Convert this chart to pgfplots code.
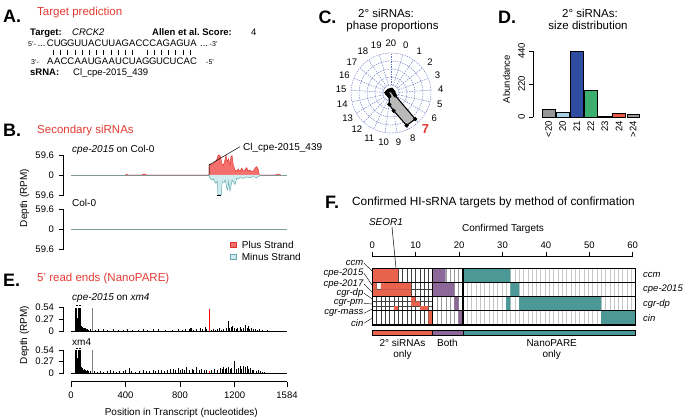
\documentclass[border=0pt]{standalone}
\usepackage{fontspec}
\setmainfont{Liberation Sans}
\usepackage{pgfplots}
\pgfplotsset{compat=1.18}
\newcommand\fs[1]{\fontsize{#1bp}{#1bp}\selectfont}
\definecolor{ttl}{RGB}{226,58,50}
\definecolor{hred}{RGB}{232,98,76}
\definecolor{hpur}{RGB}{140,104,152}
\definecolor{htea}{RGB}{76,152,150}
\definecolor{plusf}{RGB}{244,112,108}
\definecolor{pluse}{RGB}{226,50,44}
\definecolor{minf}{RGB}{208,236,238}
\definecolor{mine}{RGB}{100,170,176}
\definecolor{zline}{RGB}{125,155,155}
\definecolor{pgrid}{RGB}{100,115,190}
\definecolor{dgrey}{RGB}{150,150,150}
\definecolor{dlblue}{RGB}{166,210,230}
\definecolor{ddblue}{RGB}{46,77,160}
\definecolor{dgreen}{RGB}{60,175,110}
\definecolor{dbrown}{RGB}{139,74,28}
\definecolor{dred}{RGB}{232,90,70}
\newcommand\cell[5]{\addplot[fill=#1, draw=none, forget plot] coordinates {(#2,#4)(#3,#4)(#3,#5)(#2,#5)(#2,#4)};}
\pgfplotsset{
  rax/.style={scale only axis, axis x line=none, axis y line*=left,
    ytick align=outside, major tick length=4.5bp,
    tick style={black, line width=0.5pt},
    y axis line style={line width=0.5pt},
    yticklabel style={font=\fs{9.5}, xshift=-1.5bp},
    clip=false, xmin=-55, xmax=1639, width=231bp},
}
\begin{document}
\begin{tikzpicture}
\path[use as bounding box] (0,0) rectangle (690bp,419bp);
\begin{scope}[x=1bp,y=1bp]
% ================= A
\node[anchor=base west, inner sep=0, font=\fs{18}\bfseries] at (3,396) {A.};
\node[anchor=base west, inner sep=0, font=\fs{11.5}, text=ttl] at (37,403) {Target prediction};
\node[anchor=base west, inner sep=0, font=\fs{9.5}\bfseries] at (30,384) {Target:};
\node[anchor=base west, inner sep=0, font=\fs{9.5}\itshape] at (72,384) {CRCK2};
\node[anchor=base west, inner sep=0, font=\fs{9.5}\bfseries] at (152,384) {Allen et al.\ Score:};
\node[anchor=base west, inner sep=0, font=\fs{9.5}] at (251,384) {4};
\node[anchor=base west, inner sep=0, font=\fs{9.5}] at (28,373) {{\fs{7}5'-}\,...};
\foreach \c [count=\i] in {C,U,G,G,U,U,A,C,U,U,A,G,A,C,C,C,A,G,A,G,U,A}
  \node[anchor=base, inner sep=0, font=\fs{9.5}] at ({47+(\i-0.5)*6.82},373) {\c};
\node[anchor=base west, inner sep=0, font=\fs{9.5}] at (200,373) {...\,{\fs{7}-3'}};
\foreach \j in {0,...,11,13,14,...,19}
  \draw[line width=0.5pt] ({53.3+7.2*\j},364) -- ({53.3+7.2*\j},368.5);
\node[anchor=base west, inner sep=0, font=\fs{7}] at (31,355) {3'-};
\foreach \c [count=\i] in {A,A,C,C,A,A,U,G,A,A,U,C,U,A,G,G,U,C,U,C,A,C}
  \node[anchor=base, inner sep=0, font=\fs{9.5}] at ({47+(\i-0.5)*6.82},355) {\c};
\node[anchor=base west, inner sep=0, font=\fs{7}] at (206,355) {-5'};
\node[anchor=base west, inner sep=0, font=\fs{9.5}\bfseries] at (30,344) {sRNA:};
\node[anchor=base west, inner sep=0, font=\fs{9.5}] at (73,344) {Cl\_cpe-2015\_439};
% ================= B
\node[anchor=base west, inner sep=0, font=\fs{18}\bfseries] at (3,283) {B.};
\node[anchor=base west, inner sep=0, font=\fs{11.5}, text=ttl] at (37,285.3) {Secondary siRNAs};
\node[anchor=base west, inner sep=0, font=\fs{10}] at (72,266.3) {\itshape cpe-2015\upshape{} on Col-0};
\node[anchor=base west, inner sep=0, font=\fs{10}] at (72,213) {Col-0};
\node[rotate=90, inner sep=0, font=\fs{10}] at (24.5,221) {Depth (RPM)};
\node[anchor=base west, inner sep=0, font=\fs{10}] at (243,268.3) {Cl\_cpe-2015\_439};
\draw[fill=plusf, draw=pluse, line width=0.5pt] (230.7,171.7) rectangle (236.2,177.2);
\draw[fill=minf, draw=mine, line width=0.5pt] (230.7,159.3) rectangle (236.2,164.8);
\node[anchor=base west, inner sep=0, font=\fs{10}] at (241.7,170.7) {Plus Strand};
\node[anchor=base west, inner sep=0, font=\fs{10}] at (241.7,158.3) {Minus Strand};
% ================= E
\node[anchor=base west, inner sep=0, font=\fs{18}\bfseries] at (3,133) {E.};
\node[anchor=base west, inner sep=0, font=\fs{11.5}, text=ttl] at (37,137.4) {5' read ends (NanoPARE)};
\node[anchor=base west, inner sep=0, font=\fs{10}] at (72,119) {\itshape cpe-2015\upshape{} on \itshape xm4};
\node[anchor=base west, inner sep=0, font=\fs{10}] at (72,74) {xm4};
\node[rotate=90, inner sep=0, font=\fs{10}] at (24.5,84) {Depth (RPM)};
\node[anchor=base, inner sep=0, font=\fs{10}] at (181.3,3.5) {Position in Transcript (nucleotides)};
% ================= C
\node[anchor=base west, inner sep=0, font=\fs{18}\bfseries] at (318.3,395.7) {C.};
\node[anchor=base, inner sep=0, font=\fs{11.5}] at (386,401) {2° siRNAs:};
\node[anchor=base, inner sep=0, font=\fs{11.5}] at (392.5,389.7) {phase proportions};
\foreach \r in {8,16,24,32,40}
  \draw[pgrid, dash pattern=on 1.5pt off 1pt, line width=0.4pt] (391,326) circle[radius=\r];
\foreach \k in {0,...,20}
  \draw[pgrid, dash pattern=on 1.5pt off 1pt, line width=0.4pt]
    ({391+8*cos(90-(\k+1)*360/21)},{326+8*sin(90-(\k+1)*360/21)}) --
    ({391+40*cos(90-(\k+1)*360/21)},{326+40*sin(90-(\k+1)*360/21)});
\foreach \k in {0,...,6,8,9,...,20}
  \node[inner sep=0, font=\fs{9.5}] at ({391+50*cos(90-(\k+1)*360/21)},{326+50*sin(90-(\k+1)*360/21)}) {\k};
\node[inner sep=0, font=\fs{13}\bfseries, text=ttl] at (425.5,289.5) {7};
% ================= D
\node[anchor=base west, inner sep=0, font=\fs{18}\bfseries] at (498,395.7) {D.};
\node[anchor=base, inner sep=0, font=\fs{11.5}] at (590,401) {2° siRNAs:};
\node[anchor=base, inner sep=0, font=\fs{11.5}] at (588,389.7) {size distribution};
\node[rotate=90, inner sep=0, font=\fs{9.5}] at (506.5,340) {Abundance};
\foreach \l [count=\i] in {<20,20,21,22,23,24,>24}
  \node[rotate=90, anchor=east, inner sep=0, font=\fs{9.5}] at ({548.5+14.1*(\i-1)},298) {\l};
% ================= F
\node[anchor=base west, inner sep=0, font=\fs{18}\bfseries] at (325,210.7) {F.};
\node[anchor=base, inner sep=0, font=\fs{11.8}] at (493.5,214) {Confirmed HI-sRNA targets by method of confirmation};
\node[anchor=base, inner sep=0, font=\fs{10}\itshape] at (386,193.3) {SEOR1};
\draw[line width=0.5pt] (392,192) -- (397.3,137.3);
\node[anchor=base, inner sep=0, font=\fs{10}] at (503,187.3) {Confirmed Targets};
\foreach \l/\y in {ccm/143.6,cpe-2015/129.4,cgr-dp/115.2,cin/101}
  \node[anchor=west, inner sep=0, font=\fs{9.5}\itshape] at (643,\y) {\l};
\foreach \l/\y/\e in {ccm/155.7/148,cpe-2015/145.7/133.5,cpe-2017/135/126.5,cgr-dp/125.7/120,cgr-pm/115.7/115,cgr-mass/105.7/110,cin/95.7/101}{
  \node[anchor=east, inner sep=0, font=\fs{9.5}\itshape] at (363.5,\y) {\l};
  \draw[line width=0.4pt] (364,\y) -- (372.3,\e);}
\node[anchor=base, inner sep=0, font=\fs{10}] at (402.5,72.3) {2° siRNAs};
\node[anchor=base, inner sep=0, font=\fs{10}] at (402.5,61.7) {only};
\node[anchor=base, inner sep=0, font=\fs{10}] at (447.5,72.3) {Both};
\node[anchor=base, inner sep=0, font=\fs{10}] at (551.7,72.3) {NanoPARE};
\node[anchor=base, inner sep=0, font=\fs{10}] at (551.7,61.7) {only};
\end{scope}

% ---------- B1
\begin{axis}[rax, at={(63.5bp,224bp)}, anchor=south west, height=40bp,
  ymin=-59.6, ymax=59.6, ytick={-59.6,0,59.6}, yticklabels={59.6,0,59.6}]
\addplot[zline, line width=0.6pt] coordinates {(0,0)(1584,0)};
\addplot[fill=plusf, draw=pluse, line width=0.45pt] coordinates {
(400,0)(408,2.5)(416,0)(520,0)(530,3)(545,3)(552,0)
(1012,0)(1014,30)(1019,33)(1031,30)(1044,35)(1056,38)(1068,45)(1080,59.6)(1088,59.6)(1097,55)(1105,35)(1117,28)(1129,45)(1137,58)(1146,40)(1156,48)(1166,30)(1173,55)(1181,58)(1190,30)(1203,15)(1215,12)(1227,18)(1239,10)(1252,20)(1264,12)(1276,15)(1288,22)(1300,12)(1313,15)(1325,10)(1337,12)(1349,20)(1362,25)(1374,15)(1381,0)
(1500,0)(1510,3)(1525,2)(1540,0)};
\addplot[fill=minf, draw=mine, line width=0.5pt] coordinates {
(1012,0)(1015,-8)(1024,-12)(1034,-15)(1044,-12)(1054,-20)(1063,-25)(1072,-18)(1078,-59.6)(1103,-59.6)(1108,-20)(1122,-22)(1132,-15)(1141,-38)(1149,-45)(1156,-20)(1166,-48)(1173,-35)(1181,-15)(1190,-20)(1203,-28)(1215,-10)(1227,-12)(1239,-8)(1264,-10)(1288,-6)(1313,-8)(1337,-5)(1362,-8)(1381,-3)(1391,0)};
\addplot[black, line width=1pt] coordinates {(1072,-60.5)(1100,-60.5)};
\draw[black, line width=0.5pt] (axis cs:1012,0) -- (axis cs:1012,30) -- (axis cs:1239,84.3);
\end{axis}
% ---------- B2
\begin{axis}[rax, at={(63.5bp,169.5bp)}, anchor=south west, height=40bp,
  ymin=-59.6, ymax=59.6, ytick={-59.6,0,59.6}, yticklabels={59.6,0,59.6}]
\addplot[zline, line width=0.6pt] coordinates {(0,0)(1584,0)};
\end{axis}
% ---------- E1
\begin{axis}[rax, at={(63.5bp,88bp)}, anchor=south west, height=23.3bp,
  ymin=0, ymax=0.54, ytick={0,0.27,0.54}, yticklabels={0,0.27,0.54}]
\addplot[black, line width=0.4pt] coordinates {(0,0)(1584,0)};
\addplot[ycomb, black, line width=0.5pt] coordinates {
(33,0.54)(37,0.2)(40,0.54)(44,0.3)(48,0.15)(52,0.54)(56,0.25)(59,0.54)(63,0.35)(66,0.54)(70,0.2)(74,0.12)(78,0.08)(84,0.1)(90,0.06)(96,0.08)(102,0.05)(108,0.07)(114,0.04)(122,0.05)(130,0.03)(140,0.04)
(175,0.03)(200,0.04)(235,0.05)(265,0.03)(310,0.05)(345,0.03)(380,0.02)(415,0.04)(450,0.03)(490,0.02)(530,0.05)(560,0.03)(600,0.04)(640,0.04)(690,0.03)(740,0.02)(785,0.05)(815,0.03)(840,0.05)(865,0.04)(873,0.08)(885,0.06)(900,0.03)(920,0.04)(946,0.07)(960,0.05)(983,0.1)(995,0.04)(1030,0.03)(1045,0.05)(1058,0.03)(1075,0.04)(1090,0.06)(1100,0.03)(1120,0.05)(1135,0.07)(1150,0.24)(1160,0.06)(1175,0.1)(1183,0.12)(1195,0.08)(1210,0.05)(1222,0.06)(1240,0.1)(1250,0.05)(1262,0.08)(1280,0.15)(1290,0.08)(1300,0.12)(1310,0.05)(1320,0.06)(1335,0.04)(1350,0.05)(1365,0.03)(1380,0.04)(1400,0.02)(1440,0.02)};
\addplot[ycomb, gray, line width=0.6pt] coordinates {(154,0.54)};
\addplot[ycomb, red, line width=0.6pt] coordinates {(1014,0.5)};
\addplot[black, line width=0.7pt] coordinates {(36,0.585)(48,0.585)};
\addplot[black, line width=0.7pt] coordinates {(58,0.585)(72,0.585)};
\end{axis}
% ---------- E2
\begin{axis}[rax, at={(63.5bp,46bp)}, anchor=south west, height=23bp,
  ymin=0, ymax=0.54, ytick={0,0.27,0.54}, yticklabels={0,0.27,0.54}]
\addplot[black, line width=0.4pt] coordinates {(0,0)(1584,0)};
\addplot[ycomb, black, line width=0.5pt] coordinates {
(33,0.54)(37,0.25)(40,0.54)(44,0.35)(48,0.2)(52,0.54)(56,0.3)(59,0.54)(63,0.4)(66,0.54)(70,0.25)(74,0.15)(78,0.1)(84,0.12)(90,0.08)(96,0.1)(102,0.06)(108,0.08)(114,0.05)(122,0.06)(130,0.04)(140,0.05)
(170,0.04)(190,0.03)(215,0.05)(240,0.03)(265,0.04)(290,0.06)(310,0.04)(330,0.03)(355,0.05)(380,0.04)(400,0.06)(427,0.11)(445,0.04)(470,0.03)(500,0.05)(530,0.06)(550,0.04)(575,0.05)(600,0.07)(620,0.05)(640,0.06)(665,0.08)(685,0.05)(705,0.07)(730,0.09)(750,0.1)(765,0.06)(785,0.11)(800,0.08)(815,0.1)(830,0.06)(848,0.15)(865,0.07)(887,0.1)(900,0.08)(922,0.13)(940,0.07)(958,0.1)(975,0.06)(995,0.08)(1030,0.07)(1050,0.09)(1070,0.08)(1093,0.12)(1107,0.1)(1118,0.13)(1129,0.09)(1140,0.11)(1151,0.15)(1165,0.09)(1178,0.12)(1198,0.29)(1210,0.1)(1225,0.12)(1239,0.17)(1252,0.1)(1265,0.16)(1278,0.13)(1290,0.17)(1300,0.1)(1312,0.11)(1327,0.08)(1340,0.07)(1355,0.05)(1370,0.06)(1385,0.04)(1400,0.03)(1420,0.02)};
\addplot[ycomb, gray, line width=0.6pt] coordinates {(154,0.54)};
\addplot[ycomb, red, line width=0.6pt] coordinates {(1014,0.04)};
\addplot[black, line width=0.7pt] coordinates {(36,0.585)(48,0.585)};
\addplot[black, line width=0.7pt] coordinates {(58,0.585)(72,0.585)};
\end{axis}
% ---------- E x axis
\begin{axis}[scale only axis, at={(71bp,37.3bp)}, anchor=south west, width=216bp, height=5bp,
  xmin=0, xmax=1584, ymin=0, ymax=1, axis x line*=bottom, axis y line=none,
  xtick={0,400,800,1200,1584}, xticklabels={0,400,800,1200,1584},
  xtick align=outside, major tick length=5bp, tick style={black, line width=0.5pt},
  x axis line style={line width=0.5pt}, xticklabel style={font=\fs{9.5}, yshift=-1.5bp}]
\addplot[draw=none] coordinates {(0,0)};
\end{axis}
% ---------- C polar
\begin{axis}[scale only axis, hide axis, at={(391bp,326bp)}, anchor=center, width=100bp, height=100bp,
  xmin=-1.25, xmax=1.25, ymin=-1.25, ymax=1.25, clip=false]
\addplot[data cs=polar, draw=black, line width=1.1pt, fill=gray!55, mark=*, mark size=1.5pt, mark options={fill=black}] coordinates {
(72.86,0.08)(55.71,0.07)(38.57,0.06)(21.43,0.07)(4.29,0.06)(-12.86,0.08)(-30,0.12)(-47.14,0.89)(-64.29,0.90)(-81.43,0.45)(-98.57,0.29)(-115.71,0.10)(-132.86,0.08)(-150,0.08)(-167.14,0.10)(-184.29,0.12)(-201.43,0.10)(-218.57,0.09)(-235.71,0.08)(-252.86,0.07)(-270,0.08)(72.86,0.08)};
\end{axis}
% ---------- D bars
\begin{axis}[scale only axis, at={(533bp,302bp)}, anchor=south west, width=112bp, height=66bp,
  xmin=-0.1, xmax=7.84, ymin=0, ymax=440, axis x line=none, axis y line*=left,
  ytick={0,220,440}, yticklabels={0,220,440}, ytick align=outside, major tick length=4.5bp,
  tick style={black, line width=0.5pt}, y axis line style={line width=0.5pt},
  yticklabel style={rotate=90, anchor=south, font=\fs{9.5}}, clip=false]
\addplot[ybar, bar width=12.7bp, bar shift=0pt, fill=dgrey, draw=black, line width=0.6pt] coordinates {(1,53)};
\addplot[ybar, bar width=12.7bp, bar shift=0pt, fill=dlblue, draw=black, line width=0.6pt] coordinates {(2,29)};
\addplot[ybar, bar width=12.7bp, bar shift=0pt, fill=ddblue, draw=black, line width=0.6pt] coordinates {(3,436)};
\addplot[ybar, bar width=12.7bp, bar shift=0pt, fill=dgreen, draw=black, line width=0.6pt] coordinates {(4,180)};
\addplot[ybar, bar width=12.7bp, bar shift=0pt, fill=dbrown, draw=black, line width=0.6pt] coordinates {(5,7)};
\addplot[ybar, bar width=12.7bp, bar shift=0pt, fill=dred, draw=black, line width=0.6pt] coordinates {(6,22)};
\addplot[ybar, bar width=12.7bp, bar shift=0pt, fill=dgrey, draw=black, line width=0.6pt] coordinates {(7,18)};
\end{axis}
% ---------- F top axis
\begin{axis}[scale only axis, at={(372.3bp,163bp)}, anchor=north west, width=260.4bp, height=2bp,
  xmin=0, xmax=60, ymin=0, ymax=1, axis x line*=top, axis y line=none,
  xtick={0,10,...,60}, xticklabels={0,10,20,30,40,50,60},
  xtick align=outside, major tick length=4.3bp, tick style={black, line width=0.5pt},
  x axis line style={line width=0.5pt}, xticklabel style={font=\fs{9.5}}]
\addplot[draw=none] coordinates {(0,0)};
\end{axis}
% ---------- F heatmap
\begin{axis}[scale only axis, hide axis, at={(372.3bp,94bp)}, anchor=south west, width=263.4bp, height=56.7bp,
  xmin=0, xmax=61, ymin=0, ymax=4, clip=false]
\pgfplotsinvokeforeach{1,...,13}{\draw[black!75, line width=0.35pt] (axis cs:#1,0) -- (axis cs:#1,4);}
\pgfplotsinvokeforeach{15,...,20}{\draw[gray!80, line width=0.35pt] (axis cs:#1,0) -- (axis cs:#1,4);}
\pgfplotsinvokeforeach{22,...,60}{\draw[gray!45, line width=0.5pt] (axis cs:#1,0) -- (axis cs:#1,4);}
\draw[black!75, line width=0.35pt] (axis cs:0,2.5) -- (axis cs:14,2.5);
\draw[black!75, line width=0.35pt] (axis cs:0,1.3333) -- (axis cs:14,1.3333);
\draw[black!75, line width=0.35pt] (axis cs:0,1.6667) -- (axis cs:14,1.6667);
\cell{hred}{0}{6}{3}{4}
\cell{hred}{0}{1}{2.5}{3}
\cell{hred}{2}{9}{2.5}{3}
\cell{hred}{0}{9}{2}{2.5}
\cell{hred}{9}{10}{1.6667}{2}
\cell{hred}{9}{11}{1.3333}{1.6667}
\cell{hred}{5}{6}{1}{1.3333}
\cell{hred}{11}{13}{1}{1.3333}
\cell{hred}{13}{14}{0}{1}
\cell{hpur}{14}{17}{3}{4}
\cell{hpur}{14}{19}{2}{3}
\cell{hpur}{19}{20}{1}{2}
\cell{hpur}{20}{21}{0}{1}
\cell{htea}{21}{32}{3}{4}
\cell{htea}{32}{34}{2}{3}
\cell{htea}{31}{32}{1}{2}
\cell{htea}{34}{53}{1}{2}
\cell{htea}{53}{61}{0}{1}
\draw[black, line width=0.8pt] (axis cs:0,1) -- (axis cs:61,1);
\draw[black, line width=0.8pt] (axis cs:0,2) -- (axis cs:61,2);
\draw[black, line width=0.8pt] (axis cs:0,3) -- (axis cs:61,3);
\draw[black, line width=1.3pt] (axis cs:14,0) -- (axis cs:14,4);
\draw[black, line width=1.3pt] (axis cs:21,0) -- (axis cs:21,4);
\draw[black, line width=1.1pt] (axis cs:0,0) rectangle (axis cs:61,4);
\draw[fill=hred, draw=black, line width=0.6pt] (axis cs:0,-0.35) rectangle (axis cs:14,-0.71);
\draw[fill=hpur, draw=black, line width=0.6pt] (axis cs:14,-0.35) rectangle (axis cs:21,-0.71);
\draw[fill=htea, draw=black, line width=0.6pt] (axis cs:21,-0.35) rectangle (axis cs:61,-0.71);
\end{axis}
\end{tikzpicture}
\end{document}
